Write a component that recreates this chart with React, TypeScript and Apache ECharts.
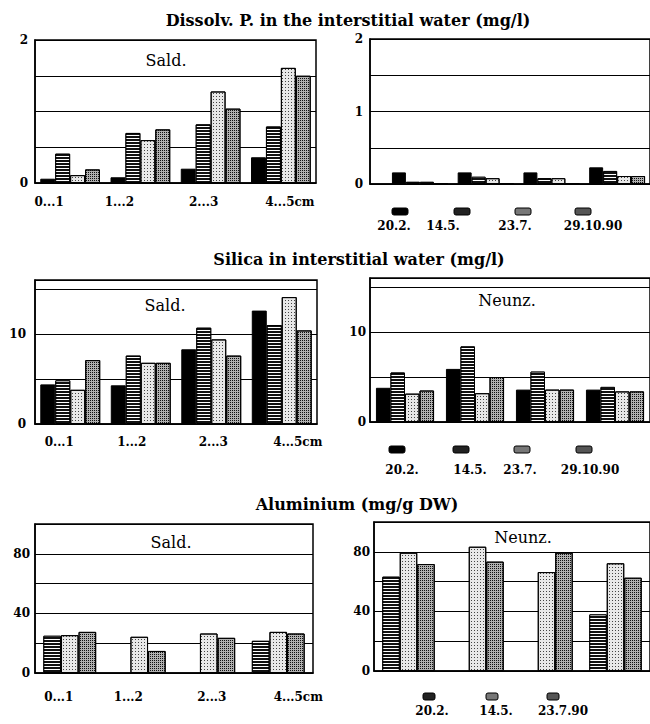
import React, { useEffect, useRef } from 'react';
import * as echarts from 'echarts';

// ---------- data ----------
const depths = ['0...1', '1...2', '2...3', '4...5cm'];
const dates4 = ['20.2.', '14.5.', '23.7.', '29.10.90'];
const datesAl = ['20.2.', '14.5.', '23.7.90'];

// Dissolved P (mg/l), Sald.
const pSald_20_2 = [0.06, 0.08, 0.2, 0.36];
const pSald_14_5 = [0.41, 0.7, 0.82, 0.79];
const pSald_23_7 = [0.11, 0.6, 1.28, 1.61];
const pSald_29_10 = [0.19, 0.75, 1.04, 1.5];
// Dissolved P (mg/l), Neunz.
const pNeunz_20_2 = [0.16, 0.16, 0.16, 0.23];
const pNeunz_14_5 = [0.03, 0.1, 0.08, 0.18];
const pNeunz_23_7 = [0.03, 0.08, 0.08, 0.11];
const pNeunz_29_10 = [0, 0, 0, 0.11];

// Silica (mg/l), Sald.
const siSald_20_2 = [4.4, 4.3, 8.3, 12.6];
const siSald_14_5 = [4.85, 7.6, 10.7, 11.0];
const siSald_23_7 = [3.8, 6.8, 9.4, 14.1];
const siSald_29_10 = [7.1, 6.8, 7.6, 10.4];
// Silica (mg/l), Neunz.
const siNeunz_20_2 = [3.8, 5.9, 3.6, 3.6];
const siNeunz_14_5 = [5.5, 8.4, 5.6, 3.9];
const siNeunz_23_7 = [3.15, 3.2, 3.6, 3.4];
const siNeunz_29_10 = [3.5, 5.0, 3.6, 3.4];

// Aluminium (mg/g DW), Sald.
const alSald_20_2 = [25, null, null, 21.6];
const alSald_14_5 = [25.4, 24.3, 26.5, 27.6];
const alSald_23_7 = [27.6, 14.8, 23.6, 26.5];
// Aluminium (mg/g DW), Neunz.
const alNeunz_20_2 = [63.3, null, null, 38];
const alNeunz_14_5 = [79.4, 83.4, 66.4, 72.3];
const alNeunz_23_7 = [71.8, 73.4, 79.4, 62.6];

// tick labels shown
const pTicksSald = [0, 2];
const pTicksNeunz = [0, 1, 2];
const siTicks = [0, 10];
const alTicks = [0, 40, 80];

// ---------- styles ----------
const SERIF = '"DejaVu Serif", serif';
const PAT: any = {
  solid: { color: '#000', swatch: '#000' },
  stripes: {
    color: '#111',
    swatch: '#222',
    decal: { symbol: 'rect', symbolSize: 1, dashArrayX: [1, 0], dashArrayY: [1, 2], color: '#fff', rotation: 0 },
  },
  light: {
    color: '#e8e8e8',
    swatch: '#777',
    decal: { symbol: 'rect', symbolSize: 1, dashArrayX: [1, 2], dashArrayY: [1, 2], color: '#444', rotation: 0 },
  },
  dense: {
    color: '#b0b0b0',
    swatch: '#555',
    decal: { symbol: 'rect', symbolSize: 1, dashArrayX: [1, 1], dashArrayY: [1, 1], color: '#111', rotation: 0 },
  },
};
const pats4 = ['solid', 'stripes', 'light', 'dense'];
const patsAl = ['stripes', 'light', 'dense'];

function buildOption() {
  const grids = [
    { left: 35, top: 40, width: 281, height: 143 }, // 0 P Sald
    { left: 370, top: 39, width: 282, height: 145 }, // 1 P Neunz frame
    { left: 35, top: 280, width: 282, height: 144 }, // 2 Si Sald
    { left: 370, top: 278, width: 281, height: 144 }, // 3 Si Neunz
    { left: 35, top: 524, width: 278, height: 149 }, // 4 Al Sald
    { left: 374, top: 522, width: 280, height: 149 }, // 5 Al Neunz
    { left: 387, top: 39, width: 283, height: 145 }, // 6 P Neunz bars
  ].map((g, i) => ({
    ...g,
    show: i !== 6,
    borderColor: '#000',
    borderWidth: 1.5,
    backgroundColor: 'transparent',
  }));

  const yCfg = [
    { max: 2, interval: 0.5, ticks: pTicksSald, margin: 7 },
    { max: 2, interval: 0.5, ticks: pTicksNeunz, margin: 7 },
    { max: 16, interval: 5, ticks: siTicks, margin: 9 },
    { max: 16, interval: 5, ticks: siTicks, margin: 4 },
    { max: 100, interval: 20, ticks: alTicks, margin: 5 },
    { max: 100, interval: 20, ticks: alTicks, margin: 4 },
    { max: 2, interval: 0.5, ticks: [], margin: 0 },
  ];
  const xShift: any = { 0: [-21, -21, -7, 9], 2: [-11, -9, 2, 16], 4: [-11, -11, 3, 20] };
  const xMargin: any = { 0: 13, 2: 12, 4: 18 };

  const yAxis = yCfg.map((c, i) => ({
    type: 'value',
    gridIndex: i,
    min: 0,
    max: c.max,
    interval: c.interval,
    show: i !== 6,
    axisLine: { show: true, lineStyle: { color: '#000', width: 1.5 } },
    axisTick: { show: false },
    splitLine: { show: true, lineStyle: { color: '#000', width: 1 } },
    axisLabel: {
      margin: c.margin,
      color: '#000',
      fontFamily: SERIF,
      fontWeight: 'bold',
      fontSize: 12,
      formatter: (v: number) => (c.ticks.includes(v) ? String(v) : ''),
    },
  }));

  const xAxis = yCfg.map((_, i) => {
    const shifts = xShift[i];
    const rich: any = {};
    if (shifts) {
      shifts.forEach((d: number, k: number) => {
        rich['o' + k] = {
          fontFamily: SERIF,
          fontWeight: 'bold',
          fontSize: 12,
          color: '#000',
          padding: d < 0 ? [0, -2 * d, 0, 0] : [0, 0, 0, 2 * d],
        };
      });
    }
    return {
      type: 'category',
      gridIndex: i,
      data: depths,
      show: i !== 6,
      axisLine: { show: true, lineStyle: { color: '#000', width: 1.5 } },
      axisTick: { show: false },
      splitLine: { show: false },
      axisLabel: shifts
        ? {
            show: true,
            interval: 0,
            margin: xMargin[i],
            fontFamily: SERIF,
            fontWeight: 'bold',
            fontSize: 12,
            color: '#000',
            formatter: (v: string, k: number) => `{o${k}|${v}}`,
            rich,
          }
        : { show: false },
    };
  });

  const series: any[] = [];
  const addGroup = (axis: number, names: string[], pats: string[], arrays: any[], gap: string) => {
    arrays.forEach((arr, k) => {
      const p = PAT[pats[k]];
      series.push({
        type: 'bar',
        name: names[k],
        xAxisIndex: axis,
        yAxisIndex: axis,
        data: arr.map((v: any) => (v === null ? '-' : v)),
        barGap: '0%',
        barCategoryGap: gap,
        silent: true,
        itemStyle: {
          color: p.color,
          borderColor: '#000',
          borderWidth: 1,
          decal: p.decal || null,
        },
      });
    });
  };
  addGroup(0, dates4, pats4, [pSald_20_2, pSald_14_5, pSald_23_7, pSald_29_10], '15%');
  addGroup(6, dates4, pats4, [pNeunz_20_2, pNeunz_14_5, pNeunz_23_7, pNeunz_29_10], '15%');
  addGroup(2, dates4, pats4, [siSald_20_2, siSald_14_5, siSald_23_7, siSald_29_10], '15%');
  addGroup(3, dates4, pats4, [siNeunz_20_2, siNeunz_14_5, siNeunz_23_7, siNeunz_29_10], '17%');
  addGroup(4, datesAl, patsAl, [alSald_20_2, alSald_14_5, alSald_23_7], '24%');
  addGroup(5, datesAl, patsAl, [alNeunz_20_2, alNeunz_14_5, alNeunz_23_7], '24%');

  const text = (t: string, x: number, y: number, size: number, bold: boolean) => ({
    type: 'text',
    x,
    y,
    silent: true,
    style: {
      text: t,
      fill: '#000',
      fontFamily: SERIF,
      fontSize: size,
      fontWeight: bold ? 'bold' : 'normal',
      align: 'center',
      verticalAlign: 'middle',
    },
  });

  const graphic: any[] = [
    text('Dissolv. P. in the interstitial water (mg/l)', 348, 20, 16, true),
    text('Silica in interstitial water (mg/l)', 359, 259, 16, true),
    text('Aluminium (mg/g DW)', 357, 504, 16, true),
    text('Sald.', 166, 60, 16, false),
    text('Sald.', 165, 305, 16, false),
    text('Sald.', 171, 542, 16, false),
    text('Neunz.', 507, 300, 16, false),
    text('Neunz.', 523, 537, 16, false),
  ];

  const legendLayouts = [
    { names: dates4, pats: pats4, swX: [400, 462, 523, 583], lbX: [394, 443, 515, 593], swY: 208, lbY: 226, w: 16 },
    { names: dates4, pats: pats4, swX: [397, 461, 522, 584], lbX: [402, 470, 520, 590], swY: 446, lbY: 470, w: 16 },
    { names: datesAl, pats: patsAl, swX: [429, 492, 553], lbX: [432, 496, 563], swY: 693, lbY: 711, w: 12 },
  ];
  legendLayouts.forEach((L) => {
    L.names.forEach((n, k) => {
      graphic.push({
        type: 'rect',
        silent: true,
        shape: { x: L.swX[k] - L.w / 2, y: L.swY, width: L.w, height: 7, r: 2 },
        style: { fill: PAT[L.pats[k]].swatch, stroke: '#000', lineWidth: 1 },
      });
      graphic.push(text(n, L.lbX[k], L.lbY, 12, true));
    });
  });

  return {
    animation: false,
    backgroundColor: '#fff',
    grid: grids,
    xAxis,
    yAxis,
    series,
    graphic,
  };
}

export default function App() {
  const ref = useRef<HTMLDivElement>(null);
  useEffect(() => {
    const chart = echarts.init(ref.current!, null, { renderer: 'svg' });
    chart.setOption(buildOption() as any);
    return () => chart.dispose();
  }, []);
  return (
    <div
      ref={ref}
      style={{ position: 'absolute', left: 0, top: 0, width: 650, height: 724, background: '#fff' }}
    />
  );
}
